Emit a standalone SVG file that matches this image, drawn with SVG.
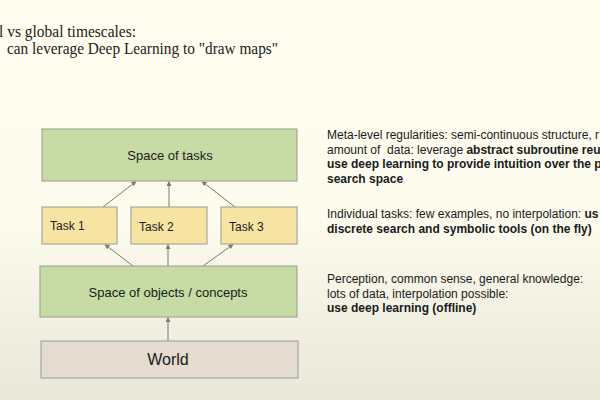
<svg xmlns="http://www.w3.org/2000/svg" width="600" height="400" viewBox="0 0 600 400">
<defs>
<linearGradient id="bg" x1="0" y1="0" x2="0" y2="1">
<stop offset="0" stop-color="#FEFDF0"/>
<stop offset="0.55" stop-color="#FCFBEE"/>
<stop offset="1" stop-color="#E8E7DA"/>
</linearGradient>
<marker id="ah" viewBox="0 0 10 10" refX="9" refY="5" markerWidth="5" markerHeight="5" orient="auto" markerUnits="userSpaceOnUse">
<path d="M0,0 L10,5 L0,10 z" fill="#7a7a72"/>
</marker>
<style>
.sans{font-family:"Liberation Sans",Arial,sans-serif;fill:#1a1a1a}
.serif{font-family:"Liberation Serif","Times New Roman",serif;fill:#222;font-size:17px}
.green{fill:#C7DCA5;stroke:#9a9a8e;stroke-width:1}
.yellow{fill:#F8E4A2;stroke:#9a9a8e;stroke-width:1}
.world{fill:#E4DBD1;stroke:#9a9a8e;stroke-width:1}
.conn line{stroke:#7a7a72;stroke-width:1;marker-end:url(#ah)}
.lbl{font-size:13px}
.tl{font-size:12px}
.note{font-size:12px}
.b{font-weight:bold}
</style>
</defs>
<rect x="0" y="0" width="600" height="400" fill="url(#bg)"/>

<text class="serif" x="-1" y="37" textLength="137" lengthAdjust="spacingAndGlyphs">l vs global timescales:</text>
<text class="serif" x="7" y="54" textLength="271" lengthAdjust="spacingAndGlyphs">can leverage Deep Learning to "draw maps"</text>

<g class="conn">
<line x1="103" y1="207" x2="136" y2="181.5"/>
<line x1="169" y1="207" x2="169" y2="181.5"/>
<line x1="235" y1="207" x2="202" y2="181.5"/>
<line x1="133" y1="266" x2="105" y2="244.5"/>
<line x1="168" y1="266" x2="168" y2="244.5"/>
<line x1="203" y1="266" x2="233" y2="244.5"/>
<line x1="168" y1="341" x2="168" y2="317.5"/>
</g>

<g id="space-of-tasks">
<rect class="green" x="42" y="129" width="255" height="52"/>
<text class="sans lbl" x="170" y="160" text-anchor="middle">Space of tasks</text>
</g>
<g id="task1">
<rect class="yellow" x="42" y="207" width="75" height="37"/>
<text class="sans tl" x="50" y="230">Task 1</text>
</g>
<g id="task2">
<rect class="yellow" x="131" y="207" width="76" height="37"/>
<text class="sans tl" x="139" y="231">Task 2</text>
</g>
<g id="task3">
<rect class="yellow" x="221" y="207" width="76" height="37"/>
<text class="sans tl" x="229" y="231">Task 3</text>
</g>
<g id="space-of-objects">
<rect class="green" x="40" y="266" width="257" height="51"/>
<text class="sans lbl" x="168" y="297" text-anchor="middle">Space of objects / concepts</text>
</g>
<g id="world">
<rect class="world" x="41" y="341" width="257" height="37"/>
<text class="sans" x="168" y="365" text-anchor="middle" font-size="16">World</text>
</g>

<g id="notes">
<text class="sans note" x="327" y="139">Meta-level regularities: semi-continuous structure, r</text>
<text class="sans note" x="327" y="154">amount of&#160; data: leverage <tspan class="b">abstract subroutine reu</tspan></text>
<text class="sans note b" x="327" y="168">use deep learning to provide intuition over the p</text>
<text class="sans note b" x="327" y="183">search space</text>
<text class="sans note" x="327" y="218">Individual tasks: few examples, no interpolation: <tspan class="b">us</tspan></text>
<text class="sans note b" x="327" y="233">discrete search and symbolic tools (on the fly)</text>
<text class="sans note" x="327" y="283">Perception, common sense, general knowledge:</text>
<text class="sans note" x="327" y="298">lots of data, interpolation possible:</text>
<text class="sans note b" x="327" y="312">use deep learning (offline)</text>
</g>
</svg>
